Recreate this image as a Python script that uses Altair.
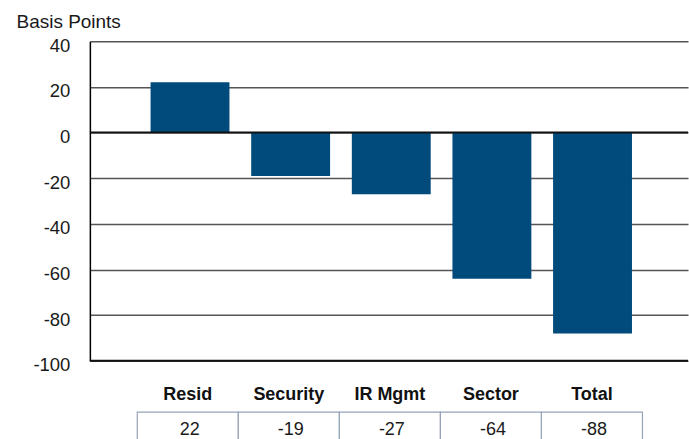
import altair as alt
import pandas as pd

# ---- data ----
categories = ["Resid", "Security", "IR Mgmt", "Sector", "Total"]
values = [22, -19, -27, -64, -88]
y_ticks = [40, 20, 0, -20, -40, -60, -80, -100]
dark_lines = [0, -100]
rows = ["name", "value"]

FONT = "Liberation Sans"
BAR_COLOR = "#004a7c"
TEXT = "#1a1a1a"
W = 599

df = pd.DataFrame({"category": categories, "value": values})
df["label"] = df["value"].astype(str)

# ---- top: bars ----
bar_x = alt.X(
    "category:N", sort=categories, axis=None,
    scale=alt.Scale(paddingInner=0.216, paddingOuter=0.58, align=0.52),
)
y_enc = alt.Y(
    "value:Q",
    scale=alt.Scale(domain=[-100, 40], nice=False, zero=False),
    axis=alt.Axis(
        values=y_ticks, labelExpr="'' + datum.value",
        title="Basis Points", titleAngle=0, titleAlign="left",
        titleBaseline="alphabetic", titleX=-74, titleY=-14, titleFont=FONT,
        titleFontSize=19, titleFontWeight="normal", titleColor=TEXT,
        labelFont=FONT, labelFontSize=18.5, labelColor=TEXT, labelPadding=20,
        labelOffset=4, ticks=False, domainColor="#000", domainWidth=1.5,
        grid=True, gridColor="#555", gridWidth=1.5,
    ),
)
bars = alt.Chart(df).mark_bar(color=BAR_COLOR).encode(x=bar_x, y=y_enc)
rules = alt.Chart(pd.DataFrame({"value": dark_lines})).mark_rule(
    color="#111", strokeWidth=2
).encode(y=alt.Y("value:Q"))
top = alt.layer(bars, rules).properties(width=W, height=320)

# ---- bottom: category names + value table ----
tab_x = alt.X(
    "category:N", sort=categories, axis=None,
    scale=alt.Scale(paddingInner=0, paddingOuter=0.46, align=0.51),
)
row_y = lambda: alt.Y("row:N", scale=alt.Scale(domain=rows, paddingInner=0, paddingOuter=0), axis=None)

names_df = df.assign(row="name")
vals_df = df.assign(row="value")

cells = alt.Chart(vals_df).mark_rect(
    fill="white", stroke="#97a3b6", strokeWidth=1.2, y2Offset=8, clip=True
).encode(x=tab_x, y=row_y())
val_text = alt.Chart(vals_df).mark_text(
    font=FONT, fontSize=18, color=TEXT, baseline="alphabetic", dy=9, dx=2
).encode(x=tab_x, y=row_y(), text="label:N")
name_text = alt.Chart(names_df).mark_text(
    font=FONT, fontSize=18, fontWeight="bold", color="#111", baseline="alphabetic", dy=1.5
).encode(x=tab_x, y=row_y(), text="category:N")
bottom = alt.layer(cells, val_text, name_text).properties(width=W, height=55)

chart = alt.vconcat(top, bottom, spacing=24, bounds="flush").properties(
    padding={"left": 16, "top": 12, "right": 0, "bottom": 0},
    background="white",
).configure_view(stroke=None)

chart.save("out.html", embed_options={"renderer": "svg", "actions": False})
